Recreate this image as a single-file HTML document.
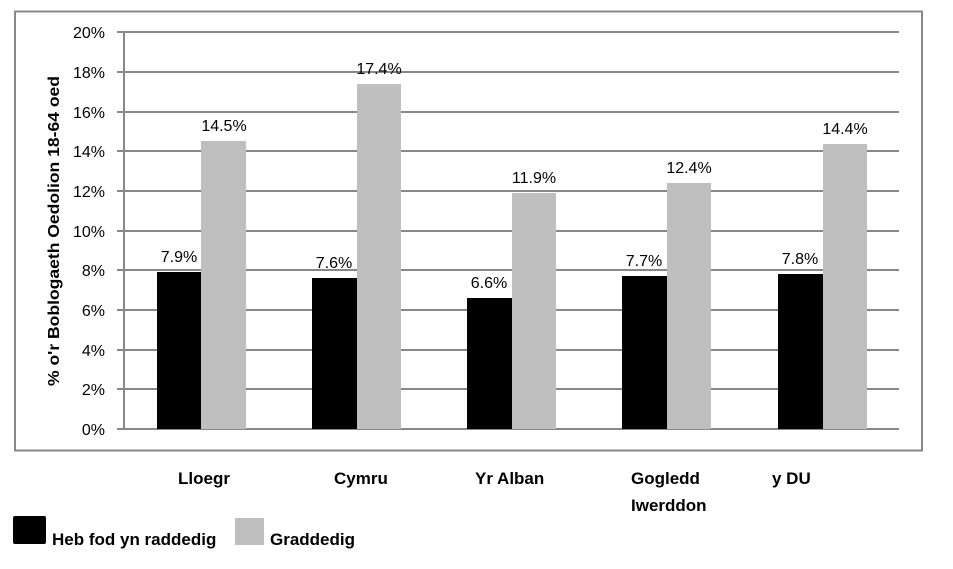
<!DOCTYPE html>
<html><head><meta charset="utf-8"><style>body{margin:0;background:#fff}svg{display:block}text{font-family:"Liberation Sans",Arial,sans-serif}</style></head><body>
<svg width="953" height="569" viewBox="0 0 953 569" xmlns="http://www.w3.org/2000/svg">
<rect x="15" y="11.5" width="907" height="439" fill="none" stroke="#888" stroke-width="2"/>
<g stroke="#888" stroke-width="2">
<line x1="117" y1="32" x2="899" y2="32"/><line x1="117" y1="72" x2="899" y2="72"/><line x1="117" y1="112" x2="899" y2="112"/><line x1="117" y1="151" x2="899" y2="151"/><line x1="117" y1="191" x2="899" y2="191"/><line x1="117" y1="231" x2="899" y2="231"/><line x1="117" y1="270" x2="899" y2="270"/><line x1="117" y1="310" x2="899" y2="310"/><line x1="117" y1="350" x2="899" y2="350"/><line x1="117" y1="389" x2="899" y2="389"/><line x1="117" y1="429" x2="899" y2="429"/>
<line x1="124" y1="32" x2="124" y2="429"/>
</g>
<g font-size="16" fill="#000" text-anchor="end">
<text x="105" y="38">20%</text><text x="105" y="78">18%</text><text x="105" y="118">16%</text><text x="105" y="157">14%</text><text x="105" y="197">12%</text><text x="105" y="237">10%</text><text x="105" y="276">8%</text><text x="105" y="316">6%</text><text x="105" y="356">4%</text><text x="105" y="395">2%</text><text x="105" y="435">0%</text>
</g>
<text transform="translate(59,231) rotate(-90)" text-anchor="middle" font-size="16" font-weight="bold" textLength="310" lengthAdjust="spacingAndGlyphs">% o'r Boblogaeth Oedolion 18-64 oed</text>
<g>
<rect x="157" y="272" width="44" height="157" fill="#000"/><rect x="201" y="141" width="45" height="288" fill="#bfbfbf"/>
<rect x="312" y="278" width="45" height="151" fill="#000"/><rect x="357" y="84" width="44" height="345" fill="#bfbfbf"/>
<rect x="467" y="298" width="45" height="131" fill="#000"/><rect x="512" y="193" width="44" height="236" fill="#bfbfbf"/>
<rect x="622" y="276" width="45" height="153" fill="#000"/><rect x="667" y="183" width="44" height="246" fill="#bfbfbf"/>
<rect x="778" y="274" width="45" height="155" fill="#000"/><rect x="823" y="144" width="44" height="285" fill="#bfbfbf"/>
</g>
<g font-size="16" text-anchor="middle">
<text x="179" y="262">7.9%</text><text x="224" y="131">14.5%</text>
<text x="334" y="268">7.6%</text><text x="379" y="74">17.4%</text>
<text x="489" y="288">6.6%</text><text x="534" y="183">11.9%</text>
<text x="644" y="266">7.7%</text><text x="689" y="173">12.4%</text>
<text x="800" y="264">7.8%</text><text x="845" y="134">14.4%</text>
</g>
<g font-size="17" font-weight="bold">
<text x="178" y="484">Lloegr</text><text x="334" y="484">Cymru</text><text x="475" y="484">Yr Alban</text>
<text x="631" y="484">Gogledd</text><text x="631" y="511">Iwerddon</text><text x="772" y="484">y DU</text>
</g>
<rect x="13" y="516" width="33" height="28" rx="2" fill="#000"/>
<text x="52" y="545" font-size="17" font-weight="bold">Heb fod yn raddedig</text>
<rect x="235" y="518" width="29" height="27" fill="#bfbfbf"/>
<text x="270" y="545" font-size="17" font-weight="bold">Graddedig</text>
</svg>
</body></html>
